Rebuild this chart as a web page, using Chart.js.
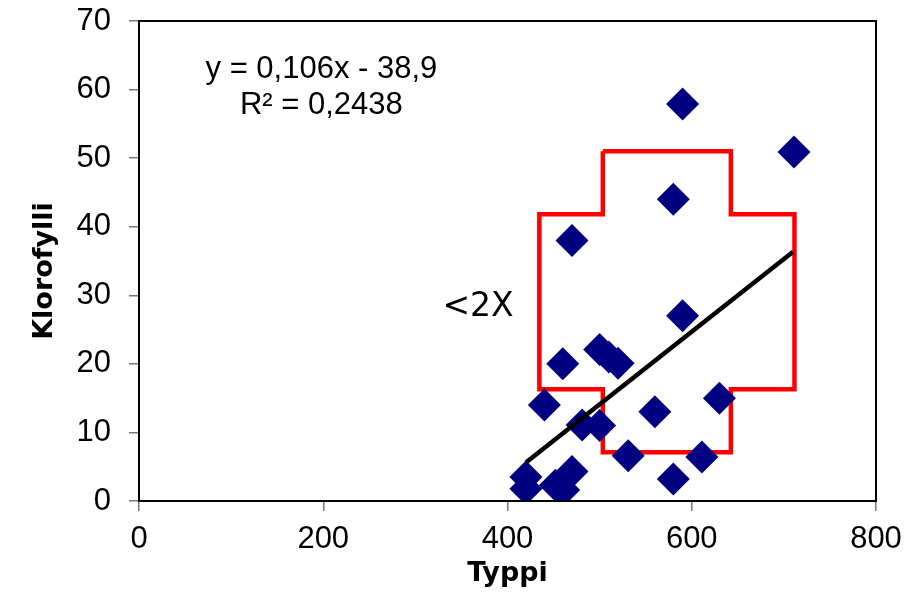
<!DOCTYPE html>
<html>
<head>
<meta charset="utf-8">
<script src="https://cdn.jsdelivr.net/npm/chart.js@4"></script>
<style>
  html, body { margin: 0; padding: 0; background: #fff; }
  #wrap { width: 908px; height: 593px; }
</style>
</head>
<body>
<div id="wrap"><canvas id="c" width="908" height="593"></canvas></div>
<script>
// ---- data ----
const typpi      = [590, 711, 580, 470, 590, 500, 510, 520, 460, 440, 630, 560, 481, 500, 531, 611, 580, 420, 420, 470, 452, 461];
const klorofylli = [57.9, 50.9, 44.0, 38.0, 27.0, 22.1, 21.0, 20.1, 20.0, 14.0, 15.0, 13.0, 11.1, 11.0, 6.6, 6.4, 3.2, 3.5, 1.8, 4.3, 2.3, 1.6];

// trend line (from the printed equation), drawn over the data range
const trendSlope = 0.106;
const trendIntercept = -38.9;
const trendRange = [420, 710];

// red "<2X" outline (cross shape)
const zoneX = [503.5, 642.5, 642.5, 711.5, 711.5, 642.5, 642.5, 503.5, 503.5, 434.6, 434.6, 503.5, 503.5];
const zoneY = [51.0, 51.0, 41.8, 41.8, 16.3, 16.3, 7.1, 7.1, 16.3, 16.3, 41.8, 41.8, 51.0];

const xTicks = [0, 200, 400, 600, 800];
const yTicks = [0, 10, 20, 30, 40, 50, 60, 70];

const eqLines = ['y = 0,106x - 38,9', 'R\u00B2 = 0,2438'];
const zoneLabel = '<2X';
const yTitle = 'Klorofylli';
const xTitle = 'Typpi';

// ---- build datasets ----
const points = typpi.map((x, i) => ({ x: x, y: klorofylli[i] }));
const trend = trendRange.map(x => ({ x: x, y: trendSlope * x + trendIntercept }));
const zone = zoneX.map((x, i) => ({ x: x, y: zoneY[i] }));

const frame = {
  id: 'frame',
  afterDraw(chart) {
    const { ctx, chartArea: a, scales } = chart;
    ctx.save();
    ctx.strokeStyle = '#000';
    ctx.lineWidth = 2;
    ctx.strokeRect(a.left, a.top, a.right - a.left, a.bottom - a.top);

    ctx.fillStyle = '#000';
    ctx.font = '31px "Liberation Sans", Arial, sans-serif';
    ctx.textAlign = 'center';
    ctx.textBaseline = 'alphabetic';
    const ex = scales.x.getPixelForValue(198);
    ctx.fillText(eqLines[0], ex, scales.y.getPixelForValue(61.7));
    ctx.fillText(eqLines[1], ex, scales.y.getPixelForValue(56.5));

    ctx.font = '33px "DejaVu Sans", sans-serif';
    ctx.textBaseline = 'middle';
    ctx.fillText(zoneLabel, scales.x.getPixelForValue(368), scales.y.getPixelForValue(28.2));

    // y-axis title (slightly below the axis centre, as in the reference)
    ctx.font = 'bold 27px "DejaVu Sans", sans-serif';
    ctx.translate(45, (a.top + a.bottom) / 2 + 10);
    ctx.rotate(-Math.PI / 2);
    ctx.fillText(yTitle, 0, 0);
    ctx.restore();
  }
};

new Chart(document.getElementById('c'), {
  type: 'scatter',
  data: {
    datasets: [
      {
        label: 'zone',
        data: zone,
        showLine: true,
        fill: false,
        borderColor: '#ff0000',
        borderWidth: 4.5,
        pointRadius: 0,
        tension: 0,
        order: 3
      },
      {
        label: 'Klorofylli',
        data: points,
        pointStyle: 'rectRot',
        pointRadius: 16.5,
        pointHoverRadius: 16.5,
        backgroundColor: '#000080',
        borderColor: '#000080',
        borderWidth: 0,
        order: 2
      },
      {
        label: 'trend',
        data: trend,
        showLine: true,
        fill: false,
        borderColor: '#000',
        borderWidth: 4.5,
        pointRadius: 0,
        order: 1
      }
    ]
  },
  options: {
    responsive: false,
    animation: false,
    layout: { padding: { left: 0, right: 32, top: 21, bottom: 0 } },
    plugins: { legend: { display: false }, tooltip: { enabled: false } },
    scales: {
      x: {
        type: 'linear',
        min: 0, max: 800,
        afterBuildTicks(s) { s.ticks = xTicks.map(v => ({ value: v })); },
        afterFit(s) { s.height = 92; s.paddingLeft = 0; s.paddingRight = 0; },
        grid: { drawOnChartArea: false, drawTicks: true, tickLength: 10, color: '#777', lineWidth: 1.5 },
        border: { color: '#000', width: 2 },
        ticks: { color: '#000', padding: 10, font: { family: '"Liberation Sans", Arial, sans-serif', size: 31 } },
        title: { display: true, text: xTitle, color: '#000', padding: { top: 0, bottom: 3 },
                 font: { family: '"DejaVu Sans", sans-serif', size: 27, weight: 'bold' } }
      },
      y: {
        type: 'linear',
        min: 0, max: 70,
        afterBuildTicks(s) { s.ticks = yTicks.map(v => ({ value: v })); },
        afterFit(s) { s.width = 139; s.paddingTop = 0; s.paddingBottom = 0; },
        grid: { drawOnChartArea: false, drawTicks: true, tickLength: 10, color: '#777', lineWidth: 1.5 },
        border: { color: '#000', width: 2 },
        ticks: { color: '#000', padding: 18, font: { family: '"Liberation Sans", Arial, sans-serif', size: 31 } },
        title: { display: false }
      }
    }
  },
  plugins: [frame]
});
</script>
</body>
</html>
